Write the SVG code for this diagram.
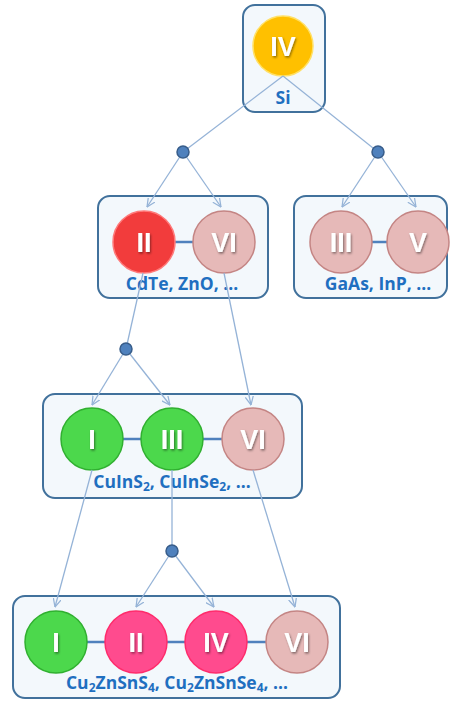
<svg xmlns="http://www.w3.org/2000/svg" width="457" height="701" viewBox="0 0 457 701">
<defs>
<style>
.box{fill:#F3F8FC;stroke:#41719C;stroke-width:2}
.el{font-family:"Liberation Sans",Arial,sans-serif;font-weight:bold;font-size:27px;fill:#fff;text-anchor:middle;filter:url(#sh)}
.lab{font-family:"Open Sans","Liberation Sans",sans-serif;font-weight:bold;font-size:17.5px;fill:#1F6FC0;text-anchor:middle}
.sub{font-size:12px}
.bar{stroke:#4F81BD;stroke-width:2.5}
.c4{fill:#FFC000;stroke:#FFE066;stroke-width:1.5}
.c2{fill:#F23C3C;stroke:#FF7A7A;stroke-width:1.5}
.c6{fill:#E6B9B8;stroke:#C48584;stroke-width:1.5}
.c3{fill:#4CD84C;stroke:#30B030;stroke-width:1.5}
.cm{fill:#FF4B8E;stroke:#FF2B6B;stroke-width:1.5}
.ln{stroke:#95B3D7;stroke-width:1.3;fill:none}
.ar{marker-end:url(#ah)}
.dot{fill:#4F81BD;stroke:#385D8A;stroke-width:1.5}
</style>
<filter id="sh" x="-20%" y="-20%" width="140%" height="140%"><feDropShadow dx="1" dy="1.5" stdDeviation="0.8" flood-color="#000" flood-opacity="0.45"/></filter>
<marker id="ah" viewBox="0 0 10 10" refX="9.5" refY="5" markerWidth="9" markerHeight="9" markerUnits="userSpaceOnUse" orient="auto"><path d="M0,0.5 L9.5,5 L0,9.5" fill="none" stroke="#95B3D7" stroke-width="1.4"/></marker>
</defs>
<g id="node-si">
<rect class="box" x="243" y="5" width="82" height="107" rx="12"/>
<circle class="c4" cx="283" cy="46" r="30"/>
<text class="el" x="283" y="56">IV</text>
<text class="lab" x="283" y="104">Si</text>
</g>
<g id="node-ii-vi">
<rect class="box" x="98" y="196" width="170" height="102" rx="12"/>
<line class="bar" x1="175" y1="242" x2="193" y2="242"/>
<circle class="c2" cx="144" cy="242" r="31"/>
<circle class="c6" cx="224" cy="242" r="31"/>
<text class="el" x="144" y="252">II</text>
<text class="el" x="224" y="252">VI</text>
<text class="lab" x="182" y="290">CdTe, ZnO, …</text>
</g>
<g id="node-iii-v">
<rect class="box" x="294" y="196" width="153" height="102" rx="12"/>
<line class="bar" x1="372" y1="242" x2="387" y2="242"/>
<circle class="c6" cx="341" cy="242" r="31"/>
<circle class="c6" cx="418" cy="242" r="31"/>
<text class="el" x="341" y="252">III</text>
<text class="el" x="418" y="252">V</text>
<text class="lab" x="378" y="290">GaAs, InP, …</text>
</g>
<g id="node-i-iii-vi">
<rect class="box" x="43" y="394" width="259" height="104" rx="12"/>
<line class="bar" x1="123" y1="439" x2="141" y2="439"/>
<line class="bar" x1="203" y1="439" x2="222" y2="439"/>
<circle class="c3" cx="92" cy="439" r="31"/>
<circle class="c3" cx="172" cy="439" r="31"/>
<circle class="c6" cx="253" cy="439" r="31"/>
<text class="el" x="92" y="449">I</text>
<text class="el" x="172" y="449">III</text>
<text class="el" x="253" y="449">VI</text>
<text class="lab" x="172" y="488">CuInS<tspan class="sub" dy="3">2</tspan><tspan dy="-3">, CuInSe</tspan><tspan class="sub" dy="3">2</tspan><tspan dy="-3">, …</tspan></text>
</g>
<g id="node-i-ii-iv-vi">
<rect class="box" x="13" y="596" width="327" height="102" rx="12"/>
<line class="bar" x1="87" y1="642" x2="105" y2="642"/>
<line class="bar" x1="167" y1="642" x2="185" y2="642"/>
<line class="bar" x1="247" y1="642" x2="266" y2="642"/>
<circle class="c3" cx="56" cy="642" r="31"/>
<circle class="cm" cx="136" cy="642" r="31"/>
<circle class="cm" cx="216" cy="642" r="31"/>
<circle class="c6" cx="297" cy="642" r="31"/>
<text class="el" x="56" y="652">I</text>
<text class="el" x="136" y="652">II</text>
<text class="el" x="216" y="652">IV</text>
<text class="el" x="297" y="652">VI</text>
<text class="lab" x="177" y="689">Cu<tspan class="sub" dy="3">2</tspan><tspan dy="-3">ZnSnS</tspan><tspan class="sub" dy="3">4</tspan><tspan dy="-3">, Cu</tspan><tspan class="sub" dy="3">2</tspan><tspan dy="-3">ZnSnSe</tspan><tspan class="sub" dy="3">4</tspan><tspan dy="-3">, …</tspan></text>
</g>
<g id="connectors">
<line class="ln" x1="283" y1="76" x2="183" y2="152"/>
<line class="ln" x1="283" y1="76" x2="378" y2="152"/>
<line class="ln ar" x1="183" y1="152" x2="147" y2="207"/>
<line class="ln ar" x1="183" y1="152" x2="221" y2="207"/>
<line class="ln ar" x1="378" y1="152" x2="342" y2="207"/>
<line class="ln ar" x1="378" y1="152" x2="416" y2="207"/>
<line class="ln" x1="143" y1="273" x2="126" y2="349"/>
<line class="ln ar" x1="224" y1="273" x2="251" y2="405"/>
<line class="ln ar" x1="126" y1="349" x2="92" y2="405"/>
<line class="ln ar" x1="126" y1="349" x2="170" y2="405"/>
<line class="ln ar" x1="92" y1="470" x2="55" y2="607"/>
<line class="ln" x1="172" y1="470" x2="172" y2="551"/>
<line class="ln ar" x1="253" y1="470" x2="295" y2="607"/>
<line class="ln ar" x1="172" y1="551" x2="136" y2="607"/>
<line class="ln ar" x1="172" y1="551" x2="214" y2="607"/>
<circle class="dot" cx="183" cy="152" r="6"/>
<circle class="dot" cx="378" cy="152" r="6"/>
<circle class="dot" cx="126" cy="349" r="6"/>
<circle class="dot" cx="172" cy="551" r="6"/>
</g>
</svg>
